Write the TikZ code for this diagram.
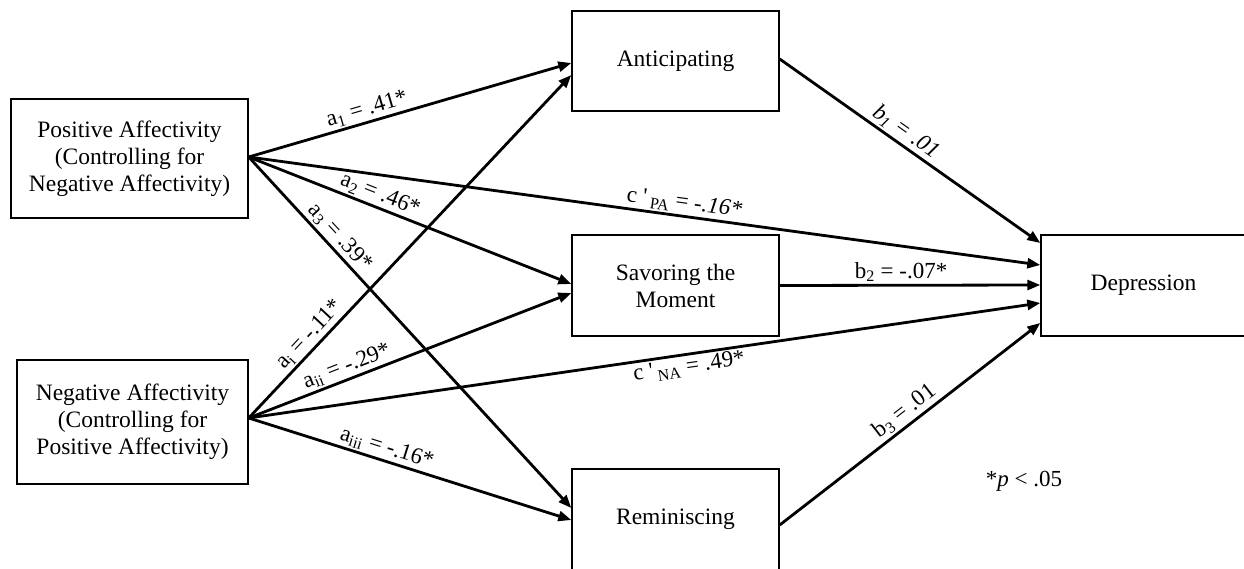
\documentclass[tikz,border=0pt]{standalone}
\usepackage{fontspec}
\setmainfont{Liberation Serif}
\usetikzlibrary{arrows.meta}
\begin{document}
\begin{tikzpicture}[x=1pt,y=-1pt,
  box/.style={draw,line width=1.4pt,inner sep=0pt,align=center,font=\fontsize{23.5}{27}\selectfont},
  arr/.style={line width=2.8pt,-{Triangle[length=13pt,width=10pt]}},
  lab/.style={font=\fontsize{23}{26}\selectfont,inner sep=2pt,sloped}]
\useasboundingbox (0,0) rectangle (1244,569);
% boxes
\node[box,minimum width=237pt,minimum height=119pt] (pa) at (129.5,158.5) {Positive Affectivity\\(Controlling for\\Negative Affectivity)};
\node[box,minimum width=231pt,minimum height=124pt] (na) at (132.5,422) {Negative Affectivity\\(Controlling for\\Positive Affectivity)};
\node[box,minimum width=207pt,minimum height=100pt] (ant) at (675.5,61) {Anticipating};
\node[box,minimum width=207pt,minimum height=101pt] (sav) at (675.5,285.5) {Savoring the\\Moment};
\node[box,minimum width=207pt,minimum height=101pt] (rem) at (675.5,519.5) {Reminiscing};
\node[box,minimum width=205pt,minimum height=101pt] (dep) at (1143.5,285.5) {Depression};
\coordinate (paout) at ([yshift=1.5pt]pa.east);
\coordinate (naout) at ([yshift=4pt]na.east);
% a paths
\draw[arr] (paout) -- ([yshift=-2pt]ant.west) node[lab,pos=0.378,above]{a\textsubscript{1} = .41*};
\draw[arr] (paout) -- ([yshift=1.5pt]sav.west) node[lab,pos=0.393,above]{a\textsubscript{2} = .46*};
\draw[arr] (paout) -- ([yshift=11.5pt]rem.west) node[lab,pos=0.254,above]{a\textsubscript{3} = .39*};
\draw[arr] (naout) -- ([yshift=-14pt]ant.west) node[lab,pos=0.218,above]{a\textsubscript{i} = -.11*};
\draw[arr] (naout) -- ([yshift=-7.5pt]sav.west) node[lab,pos=0.319,above]{a\textsubscript{ii} = -.29*};
\draw[arr] (naout) -- ([yshift=-0.5pt]rem.west) node[lab,pos=0.416,above]{a\textsubscript{iii} = -.16*};
% direct paths
\draw[arr] (paout) -- ([yshift=20.5pt]dep.west) node[lab,pos=0.548,above]{c \textquotesingle\,\textsubscript{PA} = \textit{-.16*}};
\draw[arr] (naout) -- ([yshift=-17.5pt]dep.west) node[lab,pos=0.554,below]{c \textquotesingle\,\textsubscript{NA} = .49*};
% b paths
\draw[arr] ([yshift=2pt]ant.east) -- ([yshift=42.5pt]dep.west) node[lab,pos=0.455,above]{\textit{b\textsubscript{1} = .01}};
\draw[arr] (sav.east) -- ([yshift=0.5pt]dep.west) node[lab,pos=0.466,above]{b\textsubscript{2} = -.07*};
\draw[arr] ([yshift=-5.5pt]rem.east) -- ([yshift=-37.5pt]dep.west) node[lab,pos=0.510,above]{b\textsubscript{3} = .01};
% note
\node[font=\fontsize{23}{26}\selectfont] (note) at (1024,481) {*\textit{p} < .05};
\end{tikzpicture}
\end{document}
